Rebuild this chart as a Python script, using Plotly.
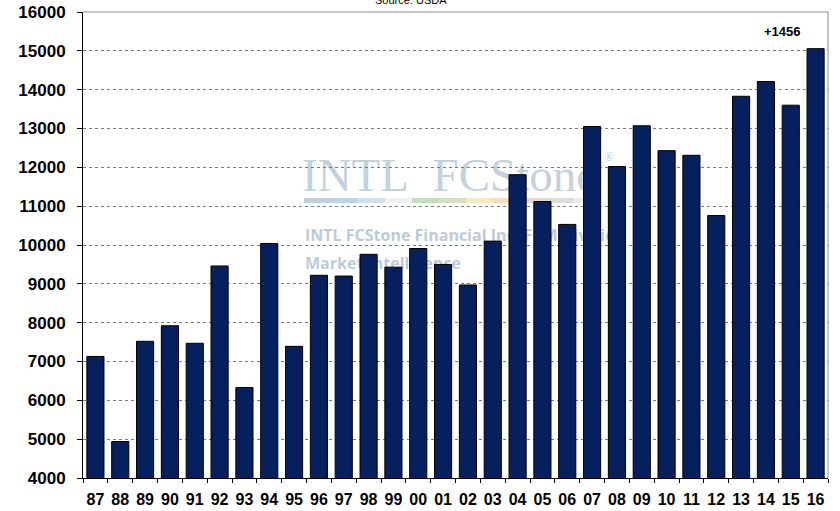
import plotly.graph_objects as go

years = ["87", "88", "89", "90", "91", "92", "93", "94", "95", "96",
         "97", "98", "99", "00", "01", "02", "03", "04", "05", "06",
         "07", "08", "09", "10", "11", "12", "13", "14", "15", "16"]
values = [7130, 4940, 7520, 7920, 7470, 9460, 6330, 10040, 7390, 9220,
          9200, 9760, 9430, 9910, 9500, 8970, 10100, 11810, 11120, 10530,
          13050, 12020, 13070, 12430, 12310, 10760, 13830, 14210, 13600, 15056]
y_ticks = list(range(4000, 16001, 1000))
y_tick_labels = [str(v) for v in y_ticks]
change_label = "+1456"
source_text = "Source: USDA"

W, H = 840, 511
L, R, T, B = 83, 12, 12, 33
pw, ph = W - L - R, H - T - B


def px_x(x):
    return (x - L) / pw


def px_y(y):
    return 1 - (y - T) / ph


fig = go.Figure()
fig.add_trace(go.Bar(
    x=years, y=values,
    marker=dict(color="#06205E", line=dict(color="#000000", width=1)),
    showlegend=False, hoverinfo="x+y",
))

shapes = []
wm = "#c3d1dd"
shapes.append(dict(type="rect", xref="paper", yref="paper", layer="below",
                   x0=px_x(299), x1=px_x(640), y0=px_y(198), y1=px_y(142),
                   line=dict(width=0), fillcolor="rgba(0,0,0,0)",
                   label=dict(text="INTL&nbsp;&nbsp;FCStone",
                              textposition="middle left",
                              font=dict(family="Liberation Serif", size=47, color=wm),
                              padding=0)))
shapes.append(dict(type="rect", xref="paper", yref="paper", layer="below",
                   x0=px_x(601), x1=px_x(616), y0=px_y(162), y1=px_y(148),
                   line=dict(width=0), fillcolor="rgba(0,0,0,0)",
                   label=dict(text="®", textposition="middle left",
                              font=dict(family="Liberation Serif", size=13, color=wm),
                              padding=0)))
strip_colors = ["#c2cfdb", "#bdd3e8", "#d6dfe7", "#eef1f3", "#c7dbbd", "#d3dfc6",
                "#f1ecbf", "#f8dcc2", "#e6d8cf", "#dfdbd7", "#ecebe8"]
sx = 304
for c in strip_colors:
    shapes.append(dict(type="rect", xref="paper", yref="paper", layer="below",
                       x0=px_x(sx), x1=px_x(sx + 27), y0=px_y(203), y1=px_y(198),
                       line=dict(width=0), fillcolor=c))
    sx += 27
shapes.append(dict(type="rect", xref="paper", yref="paper", layer="below",
                   x0=px_x(302), x1=px_x(700), y0=px_y(246), y1=px_y(226),
                   line=dict(width=0), fillcolor="rgba(0,0,0,0)",
                   label=dict(text="<b>INTL FCStone Financial Inc. FCM Division</b>",
                              textposition="middle left",
                              font=dict(family="Open Sans", size=16, color="#bccbd8"),
                              padding=0)))
shapes.append(dict(type="rect", xref="paper", yref="paper", layer="below",
                   x0=px_x(302), x1=px_x(600), y0=px_y(274), y1=px_y(254),
                   line=dict(width=0), fillcolor="rgba(0,0,0,0)",
                   label=dict(text="<b>Market Intelligence</b>",
                              textposition="middle left",
                              font=dict(family="Open Sans", size=16, color="#bccbd8"),
                              padding=0)))
shapes.append(dict(type="line", xref="paper", yref="paper", x0=0, x1=1, y0=1, y1=1,
                   line=dict(color="#8c8c8c", width=1)))
shapes.append(dict(type="line", xref="paper", yref="paper", x0=1, x1=1, y0=0, y1=1,
                   line=dict(color="#8c8c8c", width=1)))

fig.update_layout(
    width=W, height=H,
    margin=dict(l=L, r=R, t=T, b=B, autoexpand=False),
    paper_bgcolor="white", plot_bgcolor="white",
    bargap=0.31,
    shapes=shapes,
    font=dict(family="Liberation Sans"),
    annotations=[
        dict(text="<b>" + change_label + "</b>", xref="paper", yref="paper",
             x=px_x(782), y=px_y(32), xanchor="center", yanchor="middle",
             showarrow=False,
             font=dict(family="Liberation Sans", size=13, color="#000000")),
        dict(text=source_text, xref="paper", yref="paper",
             x=px_x(411), y=px_y(0), xanchor="center", yanchor="middle",
             showarrow=False,
             font=dict(family="Liberation Sans", size=11, color="#000000")),
    ],
)
fig.update_xaxes(
    type="category", showline=True, linecolor="#000000", linewidth=1,
    ticks="outside", tickson="boundaries", ticklen=4, tickcolor="#000000",
    tickangle=0, automargin=False,
    tickfont=dict(family="Liberation Sans", size=16, color="#000000", weight="bold"),
    ticklabelstandoff=7, showgrid=False,
)
fig.update_yaxes(
    range=[4000, 16000], tickvals=y_ticks, ticktext=y_tick_labels,
    showline=True, linecolor="#000000", linewidth=1,
    ticks="outside", ticklen=5, tickcolor="#000000", automargin=False,
    tickfont=dict(family="Liberation Sans", size=17, color="#000000", weight="bold"),
    ticklabelstandoff=8,
    showgrid=True, gridcolor="#7a7a7a", griddash="dot", gridwidth=1, zeroline=False,
)

fig.write_html("out.html", config={"displayModeBar": False},
               post_script="document.body.style.margin='0';document.body.style.overflow='hidden';")
